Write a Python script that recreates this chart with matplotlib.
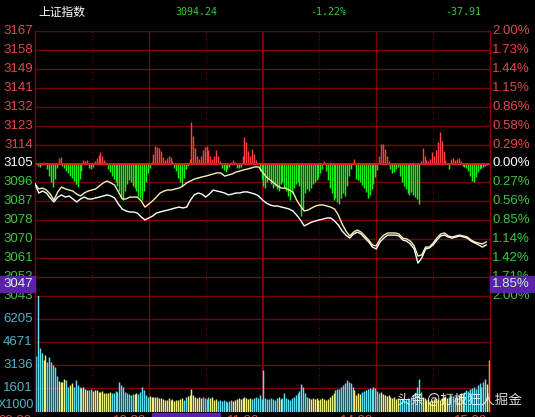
import numpy as np
import matplotlib
matplotlib.use('Agg')
import matplotlib.pyplot as plt
from matplotlib.patches import Rectangle

# ---------------- data ----------------
title_name = "上证指数"
title_price = "3094.24"
title_pct = "-1.22%"
title_chg = "-37.91"

price_labels = ['3167', '3158', '3149', '3141', '3132', '3123', '3114', '3105',
                '3096', '3087', '3078', '3070', '3061', '3052', '3043']
pct_labels = ['2.00%', '1.73%', '1.44%', '1.15%', '0.86%', '0.58%', '0.29%', '0.00%',
              '0.27%', '0.56%', '0.85%', '1.14%', '1.42%', '1.71%', '2.00%']
price_top, price_bottom = 3167, 3043
base_price = 3105
vol_labels = ['6205', '4671', '3136', '1601']
vol_ticks = [6205, 4671, 3136, 1601]
vol_top = 7740
vol_unit = 'X1000'
time_labels = ['09:30', '10:30', '11:30', '14:00', '15:00']
time_minutes = [0, 60, 120, 180, 240]
cursor_price = '3047'
cursor_pct = '1.85%'
watermark = '头条 @打板狂人掘金'

# price lines, one value every 2 minutes
line_minutes = list(range(0, 240, 2))
white_line = [
    3095.4, 3091.2, 3092.1, 3091.2, 3088.9, 3087.0, 3089.3, 3090.3, 3089.3, 3089.8,
    3088.4, 3087.0, 3088.4, 3089.3, 3088.4, 3088.4, 3088.9, 3089.3, 3089.8, 3090.3,
    3089.8, 3088.9, 3086.0, 3083.7, 3082.8, 3082.3, 3082.3, 3081.8, 3080.0, 3078.6,
    3079.5, 3080.4, 3081.8, 3082.3, 3082.8, 3083.2, 3083.7, 3084.2, 3084.6, 3084.2,
    3084.6, 3087.9, 3090.3, 3091.2, 3090.7, 3089.3, 3090.7, 3092.6, 3092.1, 3091.7,
    3091.2, 3090.3, 3090.7, 3091.2, 3091.2, 3091.7, 3091.7, 3091.2, 3090.7, 3089.8,
    3087.9, 3086.5, 3085.6, 3085.1, 3085.1, 3084.6, 3084.2, 3083.7, 3082.8, 3080.9,
    3078.6, 3075.8, 3076.7, 3077.6, 3078.1, 3078.6, 3079.0, 3079.5, 3079.5, 3078.1,
    3076.2, 3073.4, 3071.5, 3070.1, 3072.0, 3072.9, 3072.0, 3070.1, 3068.3, 3065.9,
    3065.0, 3068.3, 3070.1, 3071.5, 3071.5, 3071.5, 3071.1, 3069.2, 3068.7, 3067.3,
    3065.0, 3058.4, 3060.8, 3065.0, 3065.5, 3066.9, 3069.2, 3071.1, 3071.5, 3070.6,
    3070.1, 3070.6, 3071.1, 3070.6, 3070.1, 3068.7, 3067.8, 3066.9, 3065.9, 3066.9]
yellow_line = [
    3095.4, 3093.1, 3093.5, 3092.6, 3090.7, 3087.9, 3091.7, 3094.0, 3093.1, 3092.6,
    3092.1, 3090.7, 3089.8, 3091.2, 3092.1, 3092.6, 3093.1, 3094.5, 3095.9, 3096.8,
    3095.9, 3094.9, 3091.7, 3088.4, 3088.4, 3089.3, 3089.3, 3089.3, 3087.5, 3084.6,
    3086.0, 3087.5, 3089.3, 3091.2, 3092.1, 3092.6, 3092.6, 3093.1, 3093.5, 3094.5,
    3095.9, 3096.8, 3097.7, 3098.2, 3098.7, 3099.1, 3099.6, 3100.1, 3100.6, 3100.6,
    3099.1, 3099.6, 3100.1, 3101.0, 3101.5, 3102.0, 3102.4, 3102.9, 3103.4, 3103.4,
    3101.0, 3098.7, 3097.3, 3095.9, 3094.5, 3093.5, 3093.5, 3092.6, 3091.7, 3087.9,
    3085.1, 3082.8, 3083.2, 3084.2, 3085.1, 3085.6, 3085.6, 3085.1, 3084.6, 3083.7,
    3080.9, 3076.7, 3073.4, 3071.1, 3072.9, 3073.9, 3072.9, 3071.1, 3069.2, 3066.9,
    3066.4, 3069.7, 3071.5, 3072.5, 3072.5, 3072.5, 3072.0, 3070.1, 3069.7, 3068.7,
    3066.4, 3061.7, 3062.2, 3065.9, 3065.9, 3067.8, 3070.1, 3072.0, 3072.5, 3071.1,
    3070.6, 3071.1, 3071.5, 3071.1, 3070.6, 3069.2, 3068.3, 3067.8, 3067.3, 3068.3]

# up/down strength bars, one per minute (arbitrary units)
strength = [
    0, -2, -3, -1, 2, 0, -6, -12, -18, -23, -15, -4, 6, 7, -2, -5, -8, -10, -12, -14,
    -17, -20, -23, -15, -8, 4, 3, 4, -4, -6, -3, 3, 6, 9, 11, 8, 4, 2, -6, -9,
    -12, -15, -18, -22, -28, -33, -36, -28, -20, -16, -18, -22, -25, -28, -32, -34, -36, -28, -18, -10,
    -4, 2, 10, 18, 17, 15, 12, 7, 4, 6, 8, 7, 3, -4, -8, -14, -18, -22, -14, -6,
    -2, 5, 42, 28, 15, 8, 5, 8, 13, 16, 18, 13, 8, 5, 8, 13, 8, 3, -4, -7,
    -9, -6, -3, 2, 4, 2, -4, -5, -3, 8, 27, 22, 12, 8, 14, 10, 4, 1, -8, -15,
    -22, -24, -18, -14, -20, -24, -22, -26, -28, -20, -18, -24, -28, -32, -36, -30, -24, -20, -18, -22,
    -52, -45, -30, -26, -28, -24, -20, -18, -16, -14, -10, -6, 3, -8, -16, -24, -30, -36, -34, -38,
    -40, -34, -30, -32, -22, -12, -6, 2, 5, -15, -16, -18, -21, -25, -29, -34, -31, -26, -20, -13,
    -7, 8, 20, 20, 14, 8, 3, -6, -10, -9, -6, -3, -12, -18, -22, -26, -30, -31, -29, -31,
    -33, -35, -40, 3, 15, 8, 4, 3, 5, 11, 8, 13, 22, 31, 23, 12, 4, 0, -6, 5,
    6, 4, 5, 6, 3, -2, -3, -5, -8, -12, -17, -18, -13, -9, -6, -4, -3, -2, -1, 0]

# volume per minute (x1000)
volume = [
    3735, 9500, 4269, 3936, 3469, 3802, 3335, 3669, 3335, 3135,
    3002, 2401, 2068, 2001, 2001, 2201, 2135, 1668, 1801, 1935,
    1668, 2135, 1801, 1668, 1601, 1668, 1534, 1468, 1468, 1534,
    1401, 1468, 1468, 1334, 1334, 1401, 1268, 1268, 1268, 1334,
    1268, 1268, 1401, 1334, 2001, 1801, 1668, 1334, 1268, 1201,
    1134, 1201, 1201, 1268, 1201, 1334, 1668, 1468, 1134, 1001,
    1067, 1001, 1001, 1001, 1001, 934, 934, 867, 800, 800,
    934, 800, 867, 734, 800, 800, 867, 934, 800, 1001,
    1067, 1134, 1534, 1134, 1001, 934, 1001, 934, 1001, 934,
    867, 1001, 934, 1001, 800, 867, 734, 800, 734, 800,
    734, 667, 734, 800, 734, 800, 867, 934, 867, 934,
    1001, 934, 867, 934, 867, 934, 1001, 934, 1134, 867,
    2802, 934, 867, 867, 934, 867, 800, 934, 1001, 867,
    934, 1268, 934, 867, 800, 934, 1001, 1134, 1268, 1401,
    1868, 1668, 1268, 1001, 934, 867, 934, 867, 934, 800,
    867, 934, 867, 800, 867, 1001, 1134, 1268, 1468, 1534,
    1534, 1668, 1801, 1935, 2135, 2001, 1935, 1668, 1468, 1134,
    1268, 1201, 1334, 1401, 1468, 1534, 1601, 1534, 1668, 1601,
    1401, 1268, 1334, 1201, 1134, 1067, 1134, 1001, 934, 1001,
    867, 934, 867, 934, 800, 867, 934, 867, 1001, 1134,
    1268, 1668, 2201, 1334, 1001, 934, 800, 867, 734, 800,
    867, 934, 867, 800, 934, 1001, 1067, 934, 1001, 1134,
    1067, 1001, 934, 1134, 1268, 1201, 1334, 1468, 1401, 1534,
    1601, 1668, 1534, 1801, 1935, 1668, 2001, 2201, 1868, 3469]

# ---------------- style ----------------
W, H = 535, 417
BG = 'black'
GRID = '#7c0000'
BASE = '#d42020'
RED_TXT = '#e04848'
GREEN_TXT = '#3cc83c'
CYAN_TXT = '#4cb4cc'
RED_BAR = '#ff4040'
GREEN_BAR = '#18f018'
VOL_UP = '#f0f07c'
VOL_DN = '#58e0f2'
PURPLE = '#5a22a8'
NUM_FONT = ['Liberation Sans', 'DejaVu Sans']
BAR_LW = 1.05

plt.rcParams['font.family'] = NUM_FONT
fig = plt.figure(figsize=(W / 100, H / 100), dpi=100, facecolor=BG)

x0, x1 = 35, 490
yp0, yp1 = 31, 296
yv1 = 412


def fx(px):
    return px / W


def fy(py):
    return 1 - py / H


ax = fig.add_axes([fx(x0), fy(yp1), (x1 - x0) / W, (yp1 - yp0) / H])
axv = fig.add_axes([fx(x0), fy(yv1), (x1 - x0) / W, (yv1 - yp1) / H])

for a in (ax, axv):
    a.set_facecolor(BG)
    a.set_xlim(0, 240)
    a.set_xticks([])
    a.set_yticks([])
    for s in ('top', 'bottom'):
        a.spines[s].set_visible(False)
    for s in ('left', 'right'):
        a.spines[s].set_color('#8a0000')
        a.spines[s].set_linewidth(1.0)
    # vertical time grid
    for m in range(30, 240, 30):
        if m % 60 == 0:
            a.axvline(m, color=GRID, lw=1.5 if m == 120 else 1.0, zorder=1)
        else:
            a.axvline(m, color=GRID, lw=0.8, ls=(0, (1, 2)), zorder=1)

ax.set_ylim(price_bottom, price_top)
price_pos = np.linspace(price_top, price_bottom, len(price_labels))
for p in price_pos:
    if abs(p - base_price) < 1e-6:
        ax.axhline(p, color=BASE, lw=1.4, zorder=2.5)
    else:
        ax.axhline(p, color=GRID, lw=1.0, zorder=1)

# strength bars: one unit per pixel of the price panel
unit = (price_top - price_bottom) / (yp1 - yp0)
mins = np.arange(len(strength)) + 0.5
s = np.array(strength, dtype=float)
cols = [RED_BAR if v > 0 else GREEN_BAR for v in s]
ax.vlines(mins, base_price, base_price + s * unit, colors=cols, linewidth=BAR_LW,
          zorder=2)

ax.plot(line_minutes, yellow_line, color='#f4f0b0', lw=1.0, zorder=3)
ax.plot(line_minutes, white_line, color='white', lw=1.0, zorder=3.5)

# labels of price panel
ytr = ax.get_yaxis_transform()
for p, lab, pl in zip(price_pos, price_labels, pct_labels):
    if p > base_price + 1e-6:
        c = RED_TXT
    elif abs(p - base_price) < 1e-6:
        c = 'white'
    else:
        c = GREEN_TXT
    ax.text(-0.005, p, lab, transform=ytr, ha='right', va='center', fontsize=9.5,
            color=c, clip_on=False)
    ax.text(1.005, p, pl, transform=ytr, ha='left', va='center', fontsize=9.5,
            color=c, clip_on=False)

# volume panel
axv.set_ylim(0, vol_top)
for v in vol_ticks + [vol_top]:
    axv.axhline(v, color=GRID, lw=1.0, zorder=1)
wl = np.array(white_line)
vcols = []
for i in range(len(volume)):
    k = i // 2
    up = k > 0 and wl[k] >= wl[k - 1]
    vcols.append(VOL_UP if up else VOL_DN)
vcols[-1] = '#f0c060'
axv.vlines(np.arange(len(volume)) + 0.5, 0, volume, colors=vcols, linewidth=BAR_LW,
           zorder=2)
vtr = axv.get_yaxis_transform()
for v, lab in zip(vol_ticks, vol_labels):
    axv.text(-0.005, v, lab, transform=vtr, ha='right', va='center', fontsize=9.5,
             color=CYAN_TXT, clip_on=False)
fig.text(fx(34), fy(405), vol_unit, ha='right', va='center', fontsize=9,
         color=CYAN_TXT)

# cursor boxes
fig.patches.append(Rectangle((0, fy(292)), fx(x0), (292 - 276) / H,
                             transform=fig.transFigure, color=PURPLE, zorder=5))
fig.patches.append(Rectangle((fx(x1), fy(292)), 1 - fx(x1), (292 - 276) / H,
                             transform=fig.transFigure, color=PURPLE, zorder=5))
fig.patches.append(Rectangle((fx(152), 0), fx(220) - fx(152), (H - 413) / H,
                             transform=fig.transFigure, color=PURPLE, zorder=5))
fig.text(fx(33), fy(284), cursor_price, ha='right', va='center', fontsize=9.5,
         color='#d8f0f4', zorder=6)
fig.text(fx(492), fy(284), cursor_pct, ha='left', va='center', fontsize=9.5,
         color='#c8f0c8', zorder=6)

# time labels (cut at bottom edge)
for m, lab in zip(time_minutes, time_labels):
    xp = x0 + m * (x1 - x0) / 240
    fig.text(fx(xp - 3), fy(414.5), lab, ha='right', va='top', fontsize=9.5,
             color=RED_TXT)

# title row
fig.text(fx(38), fy(12), title_name, ha='left', va='center', fontsize=8.5,
         color='white', family=['Noto Sans CJK SC', 'DejaVu Sans'])
mono = ['DejaVu Sans Mono']
fig.text(fx(175), fy(12), title_price, ha='left', va='center', fontsize=7.2,
         color=GREEN_TXT, family=mono)
fig.text(fx(310), fy(12), title_pct, ha='left', va='center', fontsize=7.2,
         color=GREEN_TXT, family=mono)
fig.text(fx(445), fy(12), title_chg, ha='left', va='center', fontsize=7.2,
         color=GREEN_TXT, family=mono)

# watermark
fig.text(fx(397), fy(400), watermark, ha='left', va='center', fontsize=9.8,
         color='white', alpha=0.85, family=['Noto Sans CJK SC', 'DejaVu Sans'], zorder=7)

fig.savefig('out.png', dpi=100, facecolor=BG)
